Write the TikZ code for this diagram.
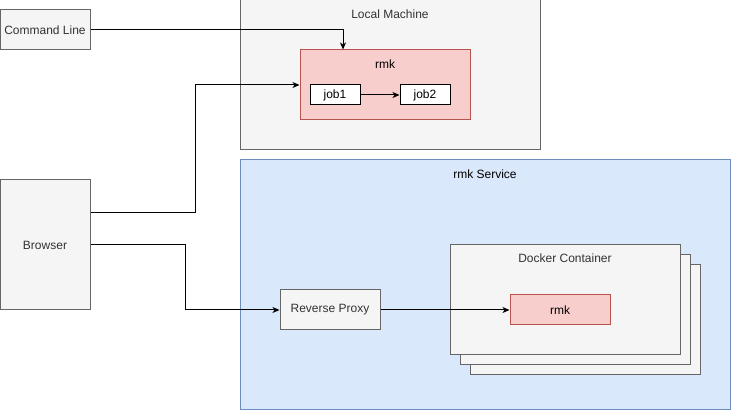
\documentclass[tikz,border=0pt]{standalone}
\usepackage{fontspec}
\setmainfont{Liberation Sans}
\usetikzlibrary{arrows.meta,positioning}
\definecolor{grayfill}{HTML}{F5F5F5}
\definecolor{grayline}{HTML}{666666}
\definecolor{redfill}{HTML}{F8CECC}
\definecolor{redline}{HTML}{B85450}
\definecolor{bluefill}{HTML}{DAE8FC}
\definecolor{blueline}{HTML}{6C8EBF}
\tikzset{
  graybox/.style={draw=grayline, fill=grayfill, text=black!80},
  redbox/.style={draw=redline, fill=redfill},
  jobbox/.style={draw=black, fill=white, minimum width=50pt, minimum height=20pt},
  toplabel/.style={label={[anchor=center, yshift=-#1, text=black!80]north:}},
  conn/.style={-{Stealth[length=7pt, width=6pt, inset=2pt]}, line width=1pt},
}
\begin{document}
\begin{tikzpicture}[x=1pt, y=-1pt, line width=1pt, inner sep=0pt,
    font=\fontsize{12}{14}\selectfont]
  \useasboundingbox (0,0) rectangle (731,411);
  % local machine
  \node[graybox, minimum width=300pt, minimum height=150pt,
    label={[anchor=center, yshift=-15pt, text=black!80]north:Local Machine}] (local) at (390,75) {};
  \node[redbox, minimum width=170pt, minimum height=70pt,
    label={[anchor=center, yshift=-15pt]north:rmk}] (rmk) at (385,85) {};
  \node[jobbox] (job1) at (335,95) {job1};
  \node[jobbox] (job2) at (425,95) {job2};
  % rmk service
  \node[draw=blueline, fill=bluefill, minimum width=490pt, minimum height=250pt,
    label={[anchor=center, yshift=-15pt]north:rmk Service}] (service) at (485,285) {};
  \node[graybox, minimum width=230pt, minimum height=110pt] (dock3) at (585,320) {};
  \node[graybox, minimum width=230pt, minimum height=110pt] (dock2) at (575,310) {};
  \node[graybox, minimum width=230pt, minimum height=110pt,
    label={[anchor=center, yshift=-14pt, text=black!80]north:Docker Container}] (dock1) at (565,300) {};
  \node[redbox, minimum width=100pt, minimum height=30pt] (rmkc) at (560,310) {rmk};
  \node[graybox, minimum width=100pt, minimum height=40pt] (proxy) at (330,310) {Reverse Proxy};
  % clients
  \node[graybox, minimum width=90pt, minimum height=40pt] (cmd) at (45,30) {Command Line};
  \node[graybox, minimum width=90pt, minimum height=130pt] (browser) at (45,245) {Browser};
  % connectors
  \draw[conn] (cmd.east) -| ([xshift=-42pt]rmk.north);
  \draw[conn] ([yshift=32pt]browser.east) -- ++(105,0) |- (rmk.west);
  \draw[conn] (browser.east) -- ++(95,0) |- (proxy.west);
  \draw[conn] (proxy.east) -- (rmkc.west);
  \draw[conn] (job1.east) -- (job2.west);
\end{tikzpicture}
\end{document}
